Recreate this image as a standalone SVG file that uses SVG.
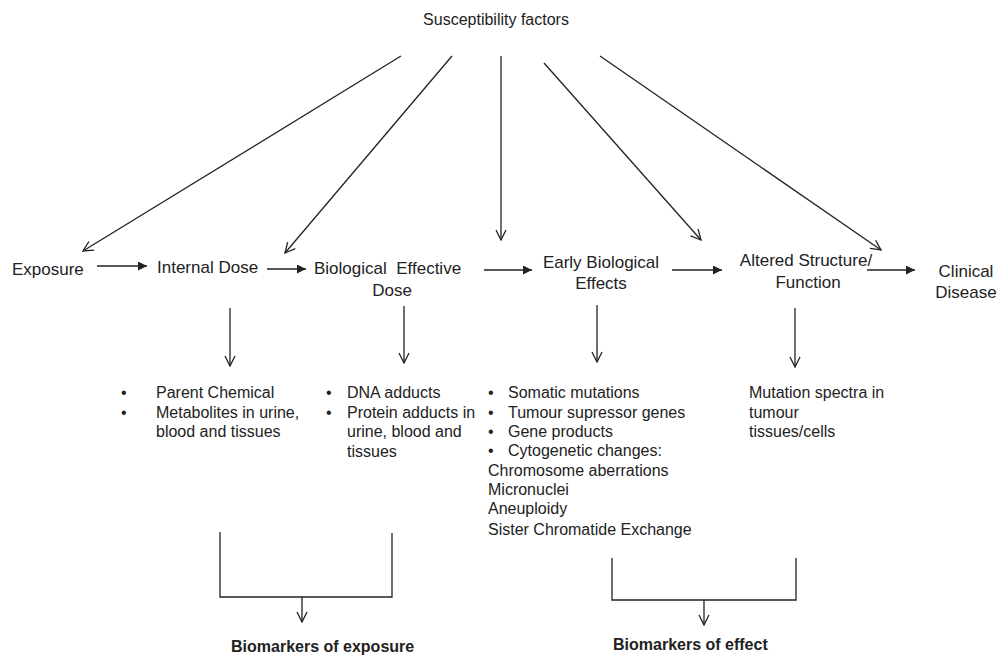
<svg xmlns="http://www.w3.org/2000/svg" width="999" height="657" viewBox="0 0 999 657">
<style>
text{font-family:"Liberation Sans",Arial,sans-serif;fill:#222}
.m{font-size:17px}
.b{font-size:16px}
.bb{font-size:16px;font-weight:bold}
.t{font-size:16px}
.ln{stroke:#222;stroke-width:1.3;fill:none}
</style>
<defs>
<marker id="open" viewBox="0 0 12 12" refX="11" refY="6" markerWidth="12" markerHeight="12" markerUnits="userSpaceOnUse" orient="auto">
<path d="M1,1 L11,6 L1,11" fill="none" stroke="#222" stroke-width="1.3"/>
</marker>
<marker id="fill" viewBox="0 0 10 10" refX="10" refY="5" markerWidth="10" markerHeight="9" markerUnits="userSpaceOnUse" orient="auto">
<path d="M0,0 L10,5 L0,10 Z" fill="#222"/>
</marker>
</defs>
<g id="susceptibility"><text class="t" x="496" y="25" text-anchor="middle">Susceptibility factors</text></g>
<g id="exposure"><text class="m" x="12" y="275">Exposure</text></g>
<g id="internal-dose"><text class="m" x="157" y="273">Internal Dose</text></g>
<g id="bed"><text class="m" x="314" y="274" xml:space="preserve">Biological  Effective</text><text class="m" x="392" y="296" text-anchor="middle">Dose</text></g>
<g id="early"><text class="m" x="601" y="268" text-anchor="middle">Early Biological</text><text class="m" x="601" y="289" text-anchor="middle">Effects</text></g>
<g id="altered"><text class="m" x="806" y="266" text-anchor="middle">Altered Structure/</text><text class="m" x="808" y="288" text-anchor="middle">Function</text></g>
<g id="clinical"><text class="m" x="966" y="277" text-anchor="middle">Clinical</text><text class="m" x="966" y="298" text-anchor="middle">Disease</text></g>
<g id="list-exposure">
<text class="b" x="121" y="398">•</text><text class="b" x="156" y="398">Parent Chemical</text>
<text class="b" x="121" y="418">•</text><text class="b" x="156" y="418">Metabolites in urine,</text>
<text class="b" x="156" y="437">blood and tissues</text>
</g>
<g id="list-bed">
<text class="b" x="326" y="398">•</text><text class="b" x="347" y="398">DNA adducts</text>
<text class="b" x="326" y="418">•</text><text class="b" x="347" y="418">Protein adducts in</text>
<text class="b" x="347" y="437">urine, blood and</text>
<text class="b" x="347" y="457">tissues</text>
</g>
<g id="list-early">
<text class="b" x="488" y="398">•</text><text class="b" x="508" y="398">Somatic mutations</text>
<text class="b" x="488" y="418">•</text><text class="b" x="508" y="418">Tumour supressor genes</text>
<text class="b" x="488" y="437">•</text><text class="b" x="508" y="437">Gene products</text>
<text class="b" x="488" y="456">•</text><text class="b" x="508" y="456">Cytogenetic changes:</text>
<text class="b" x="488" y="476">Chromosome aberrations</text>
<text class="b" x="488" y="495">Micronuclei</text>
<text class="b" x="488" y="514">Aneuploidy</text>
<text class="b" x="488" y="535">Sister Chromatide Exchange</text>
</g>
<g id="list-altered">
<text class="b" x="749" y="398">Mutation spectra in</text>
<text class="b" x="749" y="418">tumour</text>
<text class="b" x="749" y="437">tissues/cells</text>
</g>
<g id="bm-exposure"><text class="bb" x="231" y="652">Biomarkers of exposure</text></g>
<g id="bm-effect"><text class="bb" x="613" y="650">Biomarkers of effect</text></g>
<g id="connectors" class="ln">
<line x1="401" y1="56" x2="83" y2="251" marker-end="url(#open)"/>
<line x1="452" y1="56" x2="285" y2="253" marker-end="url(#open)"/>
<line x1="501" y1="56" x2="501" y2="240" marker-end="url(#open)"/>
<line x1="544" y1="63" x2="701" y2="240" marker-end="url(#open)"/>
<line x1="600" y1="56" x2="881" y2="250" marker-end="url(#open)"/>
<line x1="97" y1="266" x2="147" y2="266" marker-end="url(#fill)"/>
<line x1="267" y1="269" x2="306" y2="269" marker-end="url(#fill)"/>
<line x1="484" y1="270" x2="532" y2="270" marker-end="url(#fill)"/>
<line x1="672" y1="270" x2="722" y2="270" marker-end="url(#fill)"/>
<line x1="867" y1="270" x2="915" y2="270" marker-end="url(#fill)"/>
<line x1="230" y1="308" x2="230" y2="366" marker-end="url(#open)"/>
<line x1="404" y1="306" x2="404" y2="363" marker-end="url(#open)"/>
<line x1="597" y1="305" x2="597" y2="362" marker-end="url(#open)"/>
<line x1="795" y1="308" x2="795" y2="367" marker-end="url(#open)"/>
<path d="M220,532 V597 H392 V533"/>
<line x1="302" y1="597" x2="302" y2="622" marker-end="url(#open)"/>
<path d="M612,558 V600 H796 V558"/>
<line x1="704" y1="600" x2="704" y2="625" marker-end="url(#open)"/>
</g>
</svg>
